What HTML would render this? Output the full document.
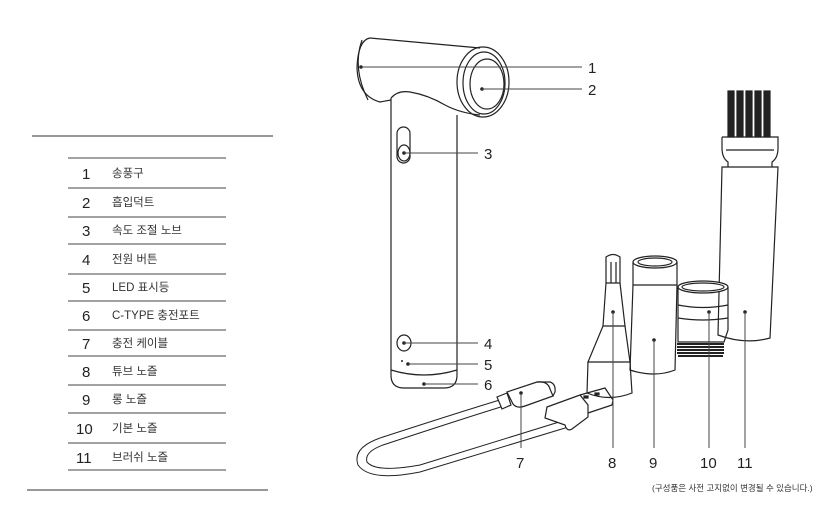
<!DOCTYPE html>
<html><head><meta charset="utf-8"><style>
html,body{margin:0;padding:0;background:#fff;}
svg{display:block;font-family:"Liberation Sans","Noto Sans CJK KR",sans-serif;}
</style></head><body>
<svg width="834" height="508" viewBox="0 0 834 508" xmlns="http://www.w3.org/2000/svg">
<line x1="32" y1="136" x2="273" y2="136" stroke="#777" stroke-width="1.5"/>
<line x1="27" y1="490" x2="268" y2="490" stroke="#777" stroke-width="1.5"/>
<g stroke="#444" stroke-width="1">
<line x1="68" y1="158" x2="226" y2="158"/>
<line x1="68" y1="188" x2="226" y2="188"/>
<line x1="68" y1="217" x2="226" y2="217"/>
<line x1="68" y1="244" x2="226" y2="244"/>
<line x1="68" y1="274" x2="226" y2="274"/>
<line x1="68" y1="301" x2="226" y2="301"/>
<line x1="68" y1="330" x2="226" y2="330"/>
<line x1="68" y1="356" x2="226" y2="356"/>
<line x1="68" y1="385" x2="226" y2="385"/>
<line x1="68" y1="413" x2="226" y2="413"/>
<line x1="68" y1="443" x2="226" y2="443"/>
<line x1="68" y1="470" x2="226" y2="470"/>
</g>
<g font-size="15" fill="#222">
<text x="82" y="179">1</text><text x="82" y="208">2</text><text x="82" y="236">3</text>
<text x="82" y="265">4</text><text x="82" y="293">5</text><text x="82" y="321">6</text>
<text x="82" y="349">7</text><text x="82" y="377">8</text><text x="82" y="405">9</text>
<text x="76" y="434">10</text><text x="76" y="463">11</text>
</g>
<g font-size="11.5" fill="#333">
<text x="112" y="177">송풍구</text><text x="112" y="206">흡입덕트</text><text x="112" y="234">속도 조절 노브</text>
<text x="112" y="263">전원 버튼</text><text x="112" y="291">LED 표시등</text><text x="112" y="319">C-TYPE 충전포트</text>
<text x="112" y="347">충전 케이블</text><text x="112" y="375">튜브 노즐</text><text x="112" y="403">롱 노즐</text>
<text x="112" y="432">기본 노즐</text><text x="112" y="461">브러쉬 노즐</text>
</g>

<g fill="none" stroke="#222" stroke-width="1.2">
<path d="M391 98 L391 375 Q391 388 404 388 L444 388 Q457 388 457 375 L457 115"/>
<path d="M391 370 Q424 380 457 370"/>
<path d="M391 98 Q398 90 410 92 Q428 95 445 105 Q460 113 480 115"/>
<path d="M370 38 L480 48"/>
<path d="M370 38 Q358 40 357 68 Q358 96 380 102 L391 100"/>
<path d="M362 40 Q352 68 368 100"/>
<ellipse cx="483" cy="82" rx="26" ry="35"/>
<ellipse cx="484" cy="83" rx="21" ry="31"/>
<ellipse cx="487" cy="84" rx="17" ry="25"/>
<rect x="397" y="127" width="13" height="36" rx="6.5"/>
<ellipse cx="404" cy="153" rx="6" ry="8"/>
<ellipse cx="404" cy="343" rx="7" ry="8"/>
<path d="M606 257 L606 283 L620 283 L620 257 Q613 252 606 257 Z"/>
<path d="M611 262 L611 283 M616 262 L616 283"/>
<path d="M606 283 L603 326 L625 326 L620 283"/>
<path d="M603 326 L588 362 L630 362 L625 326"/>
<path d="M588 362 L587 393 Q609 402 632 393 L630 362"/>
<ellipse cx="655" cy="262" rx="22" ry="6"/>
<ellipse cx="655" cy="262" rx="17" ry="4"/>
<path d="M633 262 L633 285 L677 285 L677 262"/>
<path d="M633 285 L630 370 Q655 378 675 370 L677 285"/>
<rect x="728" y="91" width="6" height="46" fill="#222"/>
<rect x="737" y="91" width="6" height="46" fill="#222"/>
<rect x="746" y="91" width="6" height="46" fill="#222"/>
<rect x="755" y="91" width="6" height="46" fill="#222"/>
<rect x="764" y="91" width="6" height="46" fill="#222"/>
<path d="M722 137 L778 137 L778 148 Q778 158 772 162 L772 167 M722 137 L722 148 Q722 158 728 162 L728 167"/>
<path d="M726 150 L774 150"/>
<path d="M722 167 L718 335 Q745 345 770 338 L778 167 Z"/>
<path d="M678 287 L678 342 L724 342 L728 330 L728 287"/>
<ellipse cx="703" cy="287" rx="25" ry="6" fill="#fff"/>
<ellipse cx="703" cy="287" rx="21" ry="4"/>
<path d="M678 305 Q703 310 728 305"/>
<path d="M678 318 Q703 322 728 318"/>
<path d="M503 399 Q460 412 380 438 Q352 448 358 465 Q370 482 420 472 L575 425" stroke-width="1"/>
<path d="M504 406 Q465 418 383 445 Q364 452 367 462 Q376 473 420 465 L572 418" stroke-width="1"/>
<path d="M497 397 L507 393 L511 405 L502 409 Z" fill="#fff"/>
<path d="M507 392 L537 382 Q548 381 550 389 L553 396 L525 406 Q517 409 513 404 Z" fill="#fff"/>
<path d="M537 382 L550 382 Q556 384 555 392 L553 396"/>
<path d="M568 412 L575 409 L580 421 L573 424 Z" fill="#fff"/>
<path d="M547 407 L580 395 L588 405 L588 417 L572 429 Q567 432 565 425 L545 418 Z" fill="#fff"/>
<path d="M580 395 L605 388 L613 400 L612 405 L588 413"/>
<rect x="584" y="396" width="4" height="2" fill="#222"/><rect x="595" y="393" width="4" height="2" fill="#222"/>
</g>
<g fill="#222">
<rect x="677" y="343" width="47" height="2"/><rect x="677" y="346" width="47" height="2"/>
<rect x="677" y="349" width="47" height="2"/><rect x="677" y="352" width="47" height="2"/>
<rect x="678" y="355" width="45" height="2"/>
</g>
<g fill="#222">
<circle cx="361" cy="67" r="1.8"/><circle cx="482" cy="89" r="1.8"/>
<circle cx="404" cy="153" r="1.8"/><circle cx="404" cy="343" r="1.8"/>
<circle cx="408" cy="364" r="1.8"/><circle cx="402" cy="361" r="1"/>
<circle cx="424" cy="384" r="1.8"/><circle cx="521" cy="393" r="1.8"/>
<circle cx="613" cy="312" r="1.8"/><circle cx="654" cy="340" r="1.8"/>
<circle cx="709" cy="312" r="1.8"/><circle cx="745" cy="312" r="1.8"/>
</g>
<g stroke="#444" stroke-width="1">
<line x1="361" y1="67" x2="582" y2="67"/>
<line x1="482" y1="89" x2="582" y2="89"/>
<line x1="404" y1="153" x2="478" y2="153"/>
<line x1="404" y1="343" x2="478" y2="343"/>
<line x1="408" y1="364" x2="478" y2="364"/>
<line x1="424" y1="384" x2="478" y2="384"/>
<line x1="521" y1="393" x2="521" y2="448"/>
<line x1="613" y1="312" x2="613" y2="448"/>
<line x1="654" y1="340" x2="654" y2="448"/>
<line x1="709" y1="312" x2="709" y2="448"/>
<line x1="745" y1="312" x2="745" y2="448"/>
</g>
<g font-size="15" fill="#222">
<text x="588" y="73">1</text><text x="588" y="95">2</text>
<text x="484" y="159">3</text><text x="484" y="349">4</text><text x="484" y="370">5</text><text x="484" y="390">6</text>
<text x="516" y="468">7</text><text x="608" y="468">8</text><text x="649" y="468">9</text>
<text x="700" y="468">10</text><text x="737" y="468">11</text>
</g>
<text x="652" y="491" font-size="8.5" fill="#333">(구성품은 사전 고지없이 변경될 수 있습니다.)</text>
</svg>
</body></html>
